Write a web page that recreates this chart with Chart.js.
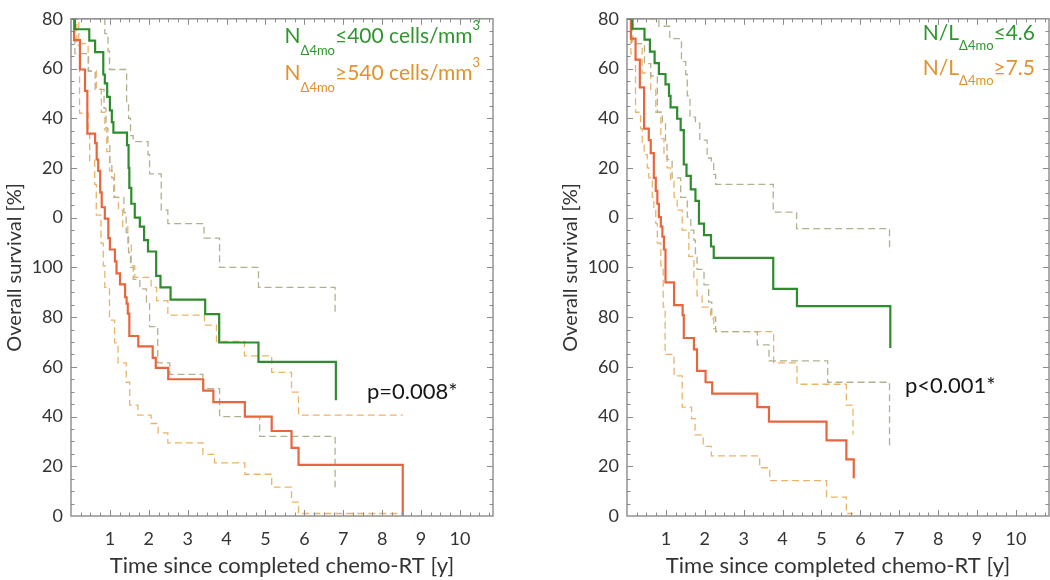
<!DOCTYPE html>
<html><head><meta charset="utf-8">
<script src="https://cdn.jsdelivr.net/npm/chart.js@4.4.0/dist/chart.umd.min.js"></script>
<style>
html,body{margin:0;padding:0;background:#fff;overflow:hidden;width:1050px;height:580px;}
#c1{position:absolute;left:0;top:0;}
#c2{position:absolute;left:556px;top:0;}
</style></head><body>
<canvas id="c1" width="525" height="580"></canvas>
<canvas id="c2" width="494" height="580"></canvas>
<script>
// ---- tick labels ----
const xTickValues = [1,2,3,4,5,6,7,8,9,10];
const xTickLabels = ['1','2','3','4','5','6','7','8','9','10'];
const yTickValues = [0,10,20,30,40,50,60,70,80,90,100];
const yTickLabels = ['0','20','40','60','80','100','0','20','40','60','80'];
const xTitle = 'Time since completed chemo-RT [y]';
const yTitle = 'Overall survival [%]';

// ---- left panel: neutrophil count ----
const nLowSurv = [[0,100],[0.10,97.9],[0.47,95.6],[0.62,93.3],[0.83,88.8],[0.87,87.0],[0.93,84.3],[1.00,81.6],[1.05,79.2],[1.09,77.1],[1.44,74.6],[1.48,70.0],[1.50,66.0],[1.55,62.8],[1.64,60.0],[1.77,58.2],[1.88,55.5],[1.98,53.2],[2.19,48.3],[2.30,46.0],[2.56,43.5],[3.45,40.6],[3.81,34.9],[4.82,31.0],[6.81,23.3]];
const nLowUpper = [[0,100],[0.87,97.0],[0.95,93.5],[0.99,89.8],[1.43,83.0],[1.48,80.0],[1.53,76.5],[1.60,75.3],[1.98,72.7],[2.02,68.8],[2.32,61.5],[2.49,58.8],[3.42,55.9],[3.82,50.0],[4.82,46.0],[6.79,40.7]];
const nLowLower = [[0,100],[0.10,93.0],[0.45,89.5],[0.62,85.8],[0.85,82.0],[0.90,78.0],[0.95,74.5],[1.00,71.0],[1.05,68.0],[1.10,64.1],[1.36,61.0],[1.42,57.0],[1.48,53.0],[1.53,50.0],[1.60,47.6],[1.77,45.7],[1.94,43.0],[2.02,38.1],[2.23,30.8],[2.54,28.5],[3.39,25.6],[3.82,20.0],[4.85,16.0],[6.79,5.8]];
const nHighSurv = [[0,100],[0.08,95.7],[0.23,89.8],[0.36,85.5],[0.42,76.9],[0.62,75.0],[0.66,71.7],[0.70,69.4],[0.75,65.1],[0.79,62.1],[0.87,59.8],[0.96,55.9],[1.00,53.6],[1.13,51.2],[1.17,48.8],[1.26,46.6],[1.39,44.0],[1.43,42.7],[1.46,40.7],[1.50,36.2],[1.73,34.1],[2.10,31.8],[2.18,29.8],[2.50,27.5],[3.40,25.2],[3.66,22.9],[4.47,20.0],[5.16,17.1],[5.67,13.7],[5.85,10.3],[8.53,0]];
const nHighUpper = [[0,100],[0.20,95.0],[0.44,89.5],[0.65,85.8],[0.78,81.2],[0.87,77.6],[0.92,73.3],[0.99,69.4],[1.12,64.1],[1.22,61.5],[1.33,58.2],[1.46,54.9],[1.55,50.3],[1.64,48.0],[2.06,46.0],[2.20,43.3],[2.49,40.4],[3.43,38.4],[3.74,35.1],[4.46,32.2],[5.16,28.9],[5.67,24.9],[5.85,20.3],[8.53,20.3]];
const nHighLower = [[0,100],[0.15,94.7],[0.22,81.0],[0.44,76.9],[0.48,71.5],[0.61,66.7],[0.65,60.5],[0.77,54.9],[0.83,50.3],[0.87,46.0],[0.99,39.4],[1.12,34.8],[1.21,30.8],[1.42,26.9],[1.51,22.3],[1.72,20.3],[2.06,18.6],[2.24,16.7],[2.49,14.7],[3.39,12.4],[3.69,10.7],[4.47,8.4],[5.16,5.8],[5.67,2.8],[5.85,0.5],[8.53,0.5]];

// ---- right panel: N/L ratio ----
const nlLowSurv = [[0,100],[0.14,98.0],[0.45,95.8],[0.59,93.4],[0.71,91.1],[0.82,88.9],[0.99,86.8],[1.08,84.5],[1.12,82.2],[1.29,79.9],[1.38,77.6],[1.46,70.7],[1.53,68.4],[1.64,65.7],[1.76,63.4],[1.85,58.8],[1.98,56.5],[2.16,54.2],[2.23,51.9],[3.76,45.7],[4.37,42.2],[6.77,33.8]];
const nlLowUpper = [[0,100],[0.82,98.5],[1.10,96.0],[1.40,91.4],[1.51,88.8],[1.55,84.5],[1.62,80.2],[1.76,79.0],[1.87,75.6],[2.06,72.0],[2.17,71.3],[2.23,68.7],[2.28,66.7],[3.76,61.1],[4.36,57.8],[6.75,53.2]];
const nlLowLower = [[0,100],[0.12,95.0],[0.45,91.0],[0.61,88.5],[0.78,81.2],[0.91,78.9],[0.99,75.0],[1.03,71.7],[1.16,68.0],[1.38,64.1],[1.55,60.1],[1.64,57.5],[1.72,55.5],[1.76,52.2],[1.80,49.6],[1.98,46.5],[2.10,43.0],[2.18,40.0],[2.28,37.1],[3.35,34.4],[3.65,31.2],[5.16,26.9],[6.75,14.0]];
const nlHighSurv = [[0,100],[0.10,96.0],[0.22,91.8],[0.33,86.2],[0.44,77.9],[0.56,75.6],[0.61,73.0],[0.69,68.0],[0.74,65.4],[0.78,62.8],[0.82,60.1],[0.87,58.2],[0.91,56.2],[0.95,53.6],[0.99,47.0],[1.21,42.4],[1.43,40.4],[1.46,35.8],[1.72,33.5],[1.80,29.2],[2.02,26.9],[2.19,24.6],[3.35,21.9],[3.65,19.0],[5.13,15.2],[5.64,11.4],[5.83,7.6]];
const nlHighUpper = [[0,100],[0.15,95.0],[0.39,89.1],[0.61,85.8],[0.74,81.2],[0.87,75.9],[0.95,72.7],[1.03,70.0],[1.12,67.4],[1.21,64.1],[1.29,61.5],[1.42,57.5],[1.59,52.2],[1.72,47.6],[1.80,44.3],[1.93,42.0],[2.15,39.7],[2.23,37.7],[2.28,37.1],[3.77,30.8],[4.37,26.5],[5.64,22.3],[5.81,16.4]];
const nlHighLower = [[0,100],[0.10,93.0],[0.22,81.2],[0.35,77.9],[0.39,74.6],[0.44,72.7],[0.52,70.0],[0.56,68.0],[0.65,64.1],[0.69,61.5],[0.74,58.8],[0.78,54.9],[0.87,50.3],[0.93,42.0],[0.98,32.5],[1.21,28.2],[1.42,21.9],[1.66,19.6],[1.75,16.3],[1.96,14.0],[2.17,12.1],[3.41,9.7],[3.67,7.1],[5.13,3.8],[5.64,0.5],[5.81,0.5]];

// ---- texts ----
const leftLegend = [
  {color:'#2f962f', parts:[['N','m'],['Δ4mo','sub'],['≤400 cells/mm','m'],['3','sup']]},
  {color:'#e0922e', parts:[['N','m'],['Δ4mo','sub'],['≥540 cells/mm','m'],['3','sup']]}
];
const rightLegend = [
  {color:'#2f962f', parts:[['N/L','m'],['Δ4mo','sub'],['≤4.6','m']]},
  {color:'#e0922e', parts:[['N/L','m'],['Δ4mo','sub'],['≥7.5','m']]}
];
const leftP = 'p=0.008*';
const rightP = 'p<0.001*';

// ---- styles ----
const GREEN = '#2e8b2e', RED = '#e8663e', CI_GRAY = '#b3b08e', CI_ORANGE = '#e9b469';
const FONT = 'Lato';

function pts(a){ return a.map(([t,s]) => ({x:t, y:s})); }
function solid(a, c){ return {data:pts(a), borderColor:c, borderWidth:2.2, stepped:'before', pointRadius:0, fill:false}; }
function dashed(a, c){ return {data:pts(a), borderColor:c, borderWidth:1.3, borderDash:[7,4], stepped:'before', pointRadius:0, fill:false}; }

const decor = {
  id:'decor',
  afterDraw(chart, args, opts){
    const {ctx, chartArea:a, scales:{x, y}} = chart;
    ctx.save();
    ctx.strokeStyle = '#8a8a8a'; ctx.lineWidth = 1.4;
    ctx.strokeRect(a.left, a.top, a.right - a.left, a.bottom - a.top);
    ctx.lineWidth = 1;
    ctx.beginPath();
    for (let v = 0.25; v < x.max; v += 0.25) {
      const major = Math.abs(v - Math.round(v)) < 1e-6;
      const L = major ? 6 : 3.5;
      const px = Math.round(x.getPixelForValue(v)) + 0.5;
      ctx.moveTo(px, a.bottom); ctx.lineTo(px, a.bottom - L);
      ctx.moveTo(px, a.top); ctx.lineTo(px, a.top + L);
    }
    for (let v = 2.5; v < 100; v += 2.5) {
      const major = Math.abs(v/10 - Math.round(v/10)) < 1e-6;
      const L = major ? 6 : 3.5;
      const py = Math.round(y.getPixelForValue(v)) + 0.5;
      ctx.moveTo(a.left, py); ctx.lineTo(a.left + L, py);
      ctx.moveTo(a.right, py); ctx.lineTo(a.right - L, py);
    }
    ctx.stroke();
    const sizes = {m:21, sub:13, sup:13};
    const shift = {m:0, sub:opts.subShift, sup:-13};
    opts.legend.forEach((line, i) => {
      let w = 0;
      line.parts.forEach(([t, k]) => { ctx.font = sizes[k] + 'px ' + FONT; w += ctx.measureText(t).width; });
      let xx = a.right - opts.legendRight - w;
      const base = opts.legendBase[i];
      ctx.fillStyle = line.color; ctx.textBaseline = 'alphabetic'; ctx.textAlign = 'left';
      line.parts.forEach(([t, k]) => {
        ctx.font = sizes[k] + 'px ' + FONT;
        ctx.fillText(t, xx, base + shift[k]);
        xx += ctx.measureText(t).width;
      });
    });
    ctx.font = '22px ' + FONT; ctx.fillStyle = '#161616'; ctx.textAlign = 'left'; ctx.textBaseline = 'alphabetic';
    ctx.fillText(opts.pText, opts.pX, opts.pBase);
    ctx.restore();
  }
};

function makeChart(id, datasets, padRight, deco){
  return new Chart(document.getElementById(id), {
    type:'line',
    data:{datasets},
    options:{
      responsive:false, animation:false, devicePixelRatio:1,
      layout:{padding:{top:10, right:padRight, left:0, bottom:0}},
      plugins:{legend:{display:false}, tooltip:{enabled:false}, decor:deco},
      scales:{
        x:{type:'linear', min:0, max:10.85,
           afterBuildTicks:s => { s.ticks = xTickValues.map(v => ({value:v})); },
           afterFit:s => { s.height = 64; },
           grid:{display:false, drawTicks:false}, border:{display:false},
           ticks:{padding:12, color:'#333', font:{family:FONT, size:18}, autoSkip:false, maxRotation:0,
                  callback:(v, i) => xTickLabels[i]},
           title:{display:true, text:xTitle, color:'#333', font:{family:FONT, size:22}, padding:{top:0, bottom:1}}},
        y:{type:'linear', min:0, max:100,
           afterBuildTicks:s => { s.ticks = yTickValues.map(v => ({value:v})); },
           afterFit:s => { s.width = 71; },
           grid:{display:false, drawTicks:false}, border:{display:false},
           ticks:{padding:8, color:'#333', font:{family:FONT, size:18}, autoSkip:false,
                  callback:(v, i) => yTickLabels[i]},
           title:{display:true, text:yTitle, color:'#333', font:{family:FONT, size:20}, padding:{top:3, bottom:0}}}
      }
    },
    plugins:[decor]
  });
}

makeChart('c1', [
  solid(nLowSurv, GREEN), solid(nHighSurv, RED),
  dashed(nLowUpper, CI_GRAY), dashed(nLowLower, CI_GRAY),
  dashed(nHighUpper, CI_ORANGE), dashed(nHighLower, CI_ORANGE)
], 32, {legend:leftLegend, legendRight:13, legendBase:[43, 80], subShift:12, pText:leftP, pX:367, pBase:399});

makeChart('c2', [
  solid(nlLowSurv, GREEN), solid(nlHighSurv, RED),
  dashed(nlLowUpper, CI_GRAY), dashed(nlLowLower, CI_GRAY),
  dashed(nlHighUpper, CI_ORANGE), dashed(nlHighLower, CI_ORANGE)
], 1, {legend:rightLegend, legendRight:14, legendBase:[40, 75], subShift:10, pText:rightP, pX:349, pBase:393});
</script>
</body></html>
